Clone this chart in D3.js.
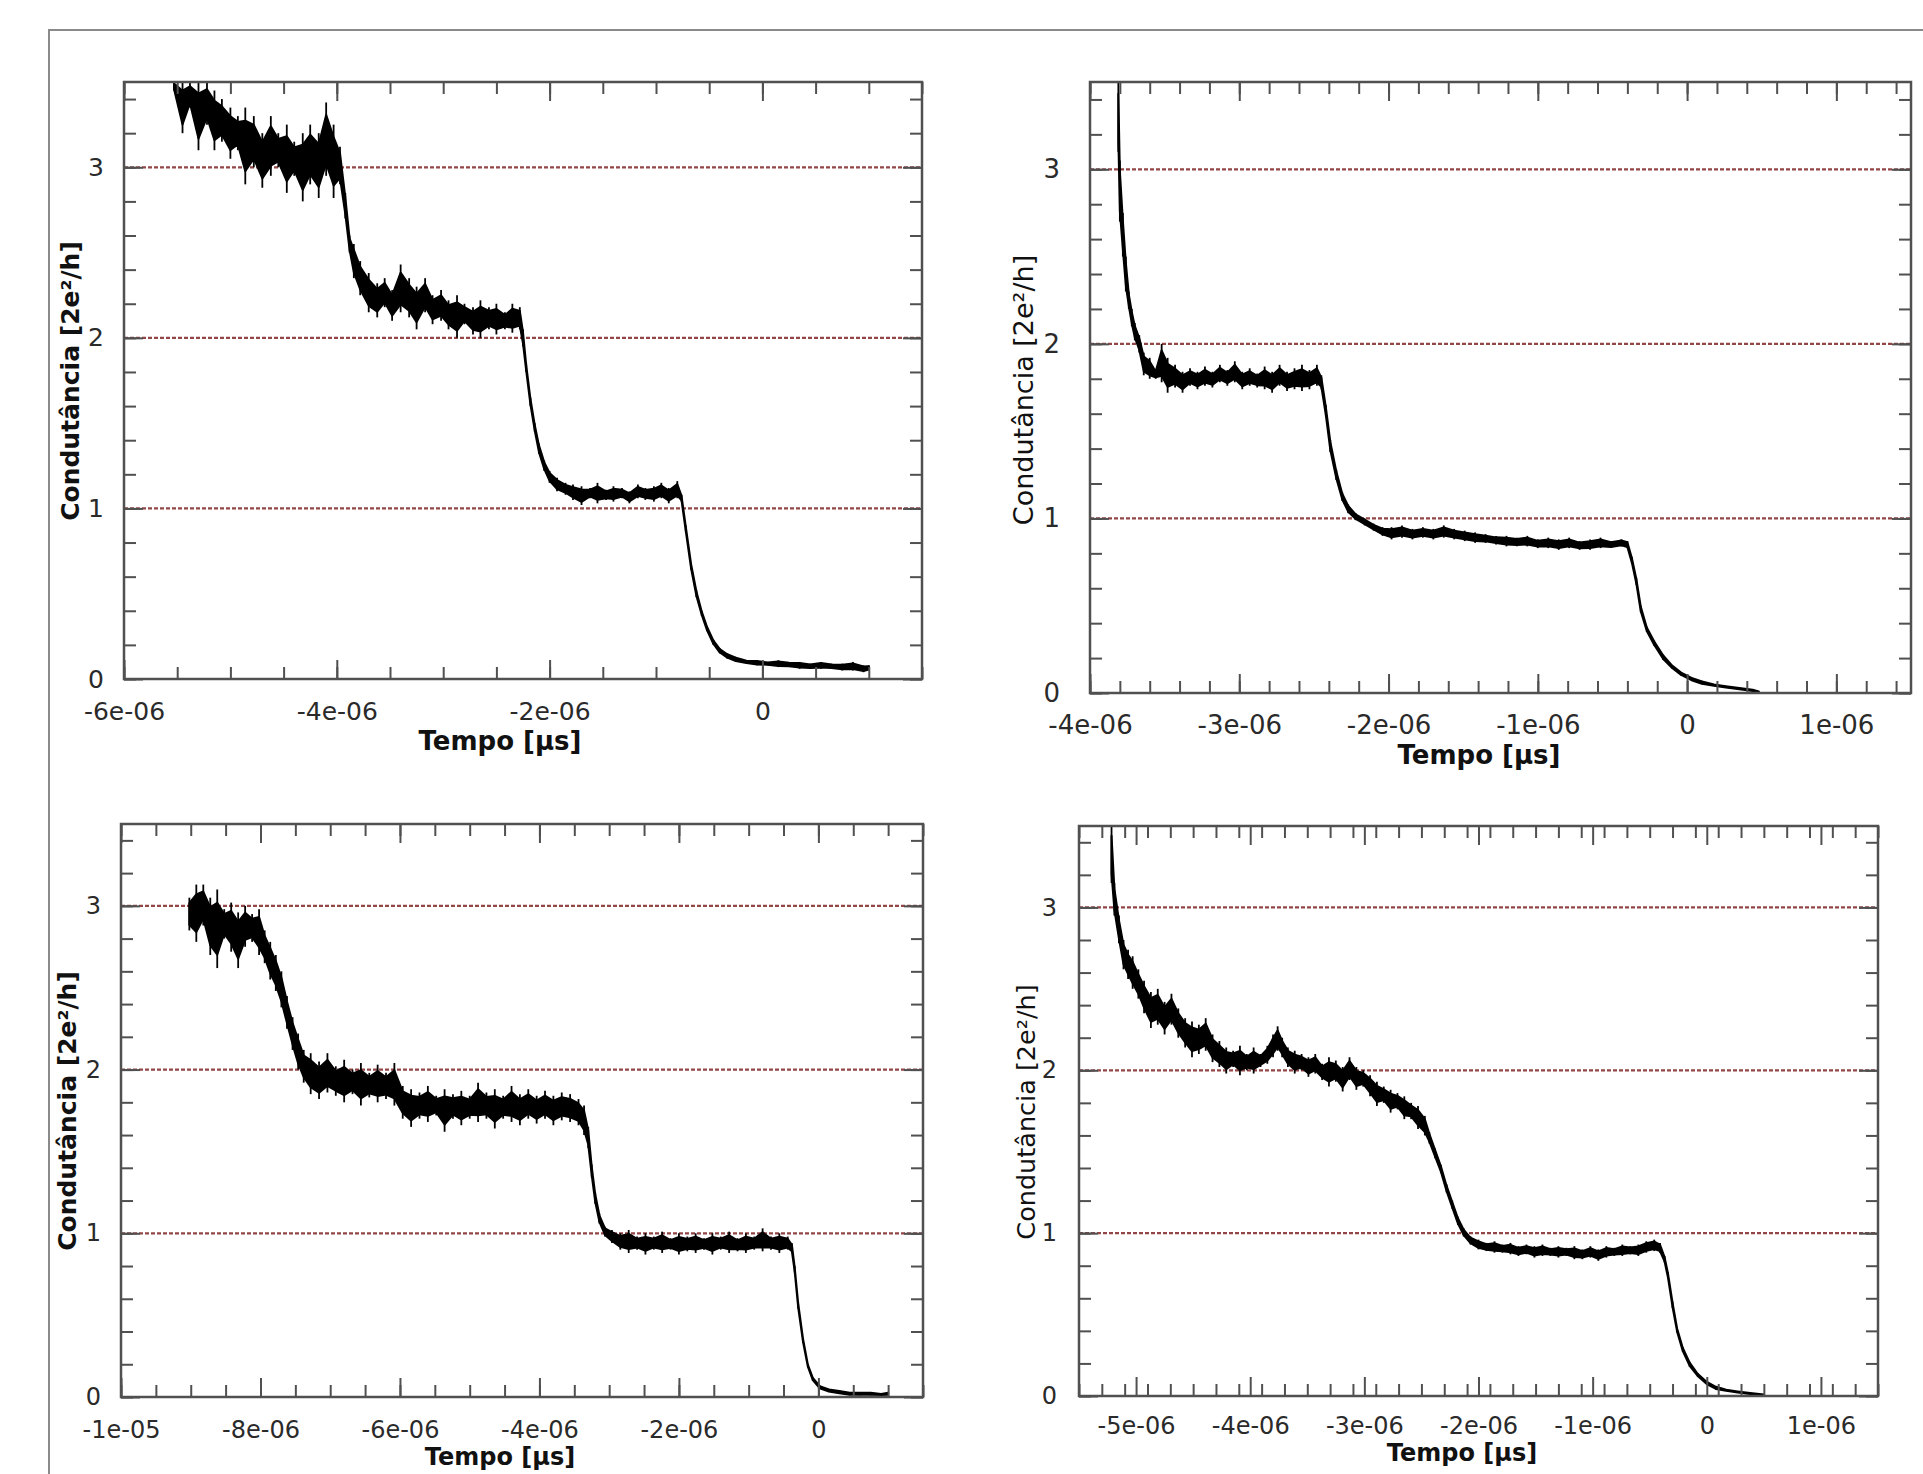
<!DOCTYPE html>
<html>
<head>
<meta charset="utf-8">
<script src="https://cdnjs.cloudflare.com/ajax/libs/d3/7.8.5/d3.min.js"></script>
<style>
  body { margin: 0; background: #fff; }
  svg { display: block; }
</style>
</head>
<body>
<svg width="1923" height="1474"></svg>
<script>
// conductance traces, time in microseconds, conductance in 2e^2/h
// each panel: sample times and the upper / lower edge of the noisy trace
const yMajor = [0, 1, 2, 3];
const refLevels = [1, 2, 3];

// top left
const aTime = [-5.53,-5.45,-5.38,-5.30,-5.22,-5.15,-5.08,-5.00,-4.93,-4.86,
  -4.78,-4.70,-4.62,-4.55,-4.47,-4.40,-4.32,-4.25,-4.17,-4.10,
  -4.03,-3.97,-3.92,-3.88,-3.84,-3.78,-3.70,-3.62,-3.55,-3.48,
  -3.40,-3.32,-3.25,-3.17,-3.10,-3.02,-2.95,-2.87,-2.80,-2.72,
  -2.65,-2.57,-2.50,-2.42,-2.35,-2.28,-2.25,-2.22,-2.18,-2.14,
  -2.10,-2.05,-2.00,-1.93,-1.85,-1.78,-1.70,-1.62,-1.55,-1.47,
  -1.40,-1.32,-1.25,-1.17,-1.10,-1.02,-0.95,-0.88,-0.80,-0.76,
  -0.72,-0.67,-0.62,-0.57,-0.52,-0.46,-0.40,-0.33,-0.25,-0.15,
  -0.05,0.05,0.15,0.25,0.35,0.45,0.55,0.65,0.75,0.85,
  0.95,1.00];
const aHigh = [3.5,3.5,3.5,3.5,3.5,3.45,3.4,3.35,3.3,3.35,
  3.3,3.2,3.3,3.2,3.25,3.15,3.2,3.25,3.2,3.38,
  3.25,3.12,2.85,2.6,2.55,2.45,2.38,2.32,2.35,2.28,
  2.43,2.35,2.3,2.35,2.25,2.28,2.22,2.25,2.2,2.18,
  2.22,2.18,2.2,2.15,2.2,2.18,2.05,1.85,1.65,1.5,
  1.38,1.28,1.22,1.18,1.15,1.14,1.13,1.12,1.15,1.11,
  1.13,1.12,1.1,1.14,1.12,1.13,1.15,1.12,1.16,1.08,
  0.9,0.68,0.52,0.4,0.31,0.23,0.18,0.15,0.13,0.11,
  0.11,0.1,0.11,0.1,0.1,0.09,0.1,0.09,0.09,0.1,
  0.08,0.08];
const aLow = [3.45,3.2,3.35,3.1,3.25,3.1,3.15,3.05,3.1,2.9,
  3.0,2.88,2.95,3.0,2.85,2.95,2.8,2.9,2.82,2.95,
  2.82,2.9,2.7,2.5,2.35,2.25,2.15,2.12,2.18,2.1,
  2.15,2.12,2.05,2.15,2.08,2.1,2.05,2.0,2.08,2.02,
  2.0,2.05,2.02,2.05,2.03,2.05,1.95,1.8,1.6,1.45,
  1.32,1.22,1.15,1.1,1.08,1.05,1.02,1.06,1.03,1.05,
  1.04,1.06,1.03,1.06,1.05,1.04,1.06,1.03,1.06,1.04,
  0.86,0.64,0.48,0.37,0.28,0.2,0.15,0.12,0.1,0.09,
  0.08,0.08,0.07,0.07,0.06,0.06,0.06,0.06,0.05,0.05,
  0.04,0.05];
const aXTicks = [-6, -4, -2, 0];

// top right
const bTime = [-3.81,-3.80,-3.78,-3.76,-3.74,-3.72,-3.70,-3.67,-3.64,-3.60,
  -3.56,-3.52,-3.48,-3.43,-3.38,-3.33,-3.28,-3.23,-3.18,-3.13,
  -3.08,-3.03,-2.98,-2.93,-2.88,-2.83,-2.78,-2.73,-2.68,-2.63,
  -2.58,-2.53,-2.48,-2.45,-2.42,-2.39,-2.35,-2.31,-2.27,-2.22,
  -2.16,-2.10,-2.04,-1.98,-1.91,-1.84,-1.77,-1.70,-1.63,-1.56,
  -1.49,-1.42,-1.35,-1.28,-1.21,-1.14,-1.07,-1.00,-0.93,-0.86,
  -0.79,-0.72,-0.65,-0.58,-0.51,-0.44,-0.40,-0.37,-0.34,-0.31,
  -0.27,-0.22,-0.16,-0.10,-0.04,0.03,0.10,0.18,0.26,0.35,
  0.44,0.48];
const bHigh = [3.5,3.05,2.75,2.5,2.3,2.2,2.12,2.05,1.95,1.92,
  1.85,2.0,1.92,1.88,1.84,1.86,1.84,1.87,1.84,1.88,
  1.85,1.9,1.84,1.86,1.83,1.87,1.84,1.88,1.84,1.86,
  1.88,1.85,1.88,1.82,1.65,1.45,1.28,1.15,1.08,1.03,
  1.0,0.97,0.95,0.95,0.96,0.94,0.95,0.94,0.96,0.94,
  0.93,0.92,0.91,0.9,0.9,0.89,0.9,0.88,0.89,0.88,
  0.89,0.87,0.88,0.89,0.87,0.88,0.87,0.78,0.66,0.5,
  0.38,0.3,0.22,0.16,0.12,0.09,0.07,0.05,0.04,0.03,
  0.02,0.01];
const bLow = [3.1,2.7,2.5,2.3,2.2,2.1,2.02,1.95,1.82,1.8,
  1.8,1.78,1.72,1.75,1.72,1.76,1.74,1.76,1.75,1.78,
  1.76,1.78,1.74,1.76,1.75,1.74,1.72,1.76,1.73,1.74,
  1.73,1.74,1.76,1.74,1.58,1.38,1.22,1.1,1.03,0.99,
  0.96,0.93,0.9,0.88,0.89,0.88,0.89,0.88,0.89,0.88,
  0.87,0.86,0.86,0.85,0.84,0.84,0.84,0.83,0.83,0.82,
  0.83,0.82,0.82,0.83,0.83,0.84,0.83,0.74,0.62,0.46,
  0.35,0.27,0.19,0.14,0.1,0.07,0.05,0.04,0.03,0.02,
  0.01,0.005];
const bXTicks = [-4, -3, -2, -1, 0, 1];

// bottom left
const cTime = [-9.02,-8.92,-8.82,-8.72,-8.62,-8.52,-8.42,-8.32,-8.22,-8.12,
  -8.02,-7.94,-7.86,-7.78,-7.70,-7.62,-7.54,-7.46,-7.38,-7.28,
  -7.16,-7.04,-6.92,-6.80,-6.68,-6.56,-6.44,-6.32,-6.20,-6.08,
  -5.96,-5.84,-5.72,-5.60,-5.48,-5.36,-5.24,-5.12,-5.00,-4.88,
  -4.76,-4.64,-4.52,-4.40,-4.28,-4.16,-4.04,-3.92,-3.80,-3.68,
  -3.56,-3.44,-3.36,-3.30,-3.25,-3.20,-3.14,-3.06,-2.96,-2.84,
  -2.72,-2.60,-2.48,-2.36,-2.24,-2.12,-2.00,-1.88,-1.76,-1.64,
  -1.52,-1.40,-1.28,-1.16,-1.04,-0.92,-0.80,-0.68,-0.56,-0.44,
  -0.38,-0.34,-0.29,-0.22,-0.15,-0.08,0.02,0.15,0.30,0.45,
  0.60,0.75,0.90,1.00];
const cHigh = [3.05,3.13,3.13,3.05,3.1,2.98,3.02,2.96,3.0,2.95,
  2.98,2.85,2.78,2.7,2.6,2.45,2.32,2.22,2.12,2.1,
  2.05,2.1,2.02,2.06,2.0,2.04,1.98,2.03,1.98,2.04,
  1.9,1.88,1.86,1.9,1.84,1.88,1.85,1.87,1.84,1.92,
  1.86,1.88,1.84,1.9,1.85,1.88,1.84,1.87,1.84,1.86,
  1.85,1.82,1.78,1.65,1.42,1.25,1.12,1.04,1.02,1.0,
  1.02,0.98,1.0,0.98,1.01,0.97,1.0,0.98,1.0,0.97,
  1.0,0.98,1.01,0.97,1.0,0.98,1.03,0.98,1.0,0.98,
  0.94,0.8,0.58,0.36,0.2,0.12,0.07,0.05,0.04,0.03,
  0.03,0.03,0.02,0.03];
const cLow = [2.85,2.78,2.88,2.7,2.62,2.8,2.72,2.62,2.75,2.78,
  2.7,2.65,2.55,2.48,2.38,2.25,2.12,2.0,1.92,1.85,
  1.82,1.86,1.84,1.8,1.85,1.78,1.83,1.8,1.82,1.78,
  1.7,1.65,1.7,1.68,1.72,1.62,1.7,1.66,1.7,1.68,
  1.7,1.64,1.7,1.68,1.66,1.7,1.67,1.7,1.66,1.69,
  1.68,1.66,1.6,1.52,1.34,1.18,1.06,0.98,0.94,0.9,
  0.88,0.9,0.87,0.9,0.88,0.9,0.87,0.89,0.88,0.9,
  0.87,0.9,0.88,0.89,0.88,0.9,0.89,0.9,0.88,0.9,
  0.88,0.76,0.54,0.33,0.18,0.1,0.05,0.03,0.02,0.01,
  0.01,0.01,0.01,0.01];
const cXTicks = [-10, -8, -6, -4, -2, 0];

// bottom right
const dTime = [-5.215,-5.19,-5.15,-5.11,-5.07,-5.03,-4.98,-4.93,-4.87,-4.81,
  -4.75,-4.69,-4.63,-4.57,-4.51,-4.45,-4.39,-4.33,-4.27,-4.21,
  -4.15,-4.09,-4.03,-3.97,-3.91,-3.85,-3.80,-3.76,-3.72,-3.67,
  -3.61,-3.55,-3.49,-3.43,-3.37,-3.31,-3.25,-3.19,-3.13,-3.07,
  -3.01,-2.95,-2.89,-2.83,-2.77,-2.71,-2.65,-2.59,-2.53,-2.47,
  -2.43,-2.38,-2.33,-2.28,-2.23,-2.18,-2.13,-2.07,-2.00,-1.93,
  -1.86,-1.79,-1.72,-1.65,-1.58,-1.51,-1.44,-1.37,-1.30,-1.23,
  -1.16,-1.09,-1.02,-0.95,-0.88,-0.81,-0.74,-0.67,-0.60,-0.53,
  -0.46,-0.41,-0.37,-0.34,-0.30,-0.26,-0.21,-0.15,-0.08,0.00,
  0.08,0.17,0.27,0.38,0.50];
const dHigh = [3.5,3.15,2.95,2.8,2.74,2.7,2.62,2.55,2.48,2.5,
  2.42,2.47,2.38,2.32,2.3,2.28,2.32,2.22,2.18,2.14,
  2.12,2.15,2.1,2.14,2.1,2.15,2.22,2.27,2.2,2.14,
  2.12,2.1,2.08,2.1,2.04,2.08,2.06,2.02,2.08,2.02,
  2.0,1.97,1.93,1.9,1.88,1.86,1.84,1.8,1.78,1.72,
  1.62,1.52,1.42,1.3,1.2,1.1,1.03,0.98,0.96,0.94,
  0.95,0.93,0.94,0.92,0.93,0.92,0.93,0.91,0.92,0.91,
  0.92,0.9,0.92,0.9,0.92,0.91,0.93,0.92,0.93,0.95,
  0.96,0.94,0.86,0.76,0.58,0.42,0.3,0.21,0.14,0.09,
  0.06,0.04,0.03,0.02,0.01];
const dLow = [3.15,2.95,2.78,2.62,2.56,2.5,2.44,2.35,2.26,2.28,
  2.22,2.28,2.2,2.14,2.08,2.1,2.12,2.05,2.02,1.98,
  2.02,1.97,2.0,1.98,2.02,2.04,2.08,2.12,2.08,2.02,
  1.98,2.0,1.96,1.98,1.94,1.9,1.93,1.87,1.94,1.88,
  1.9,1.84,1.78,1.8,1.74,1.76,1.7,1.7,1.64,1.6,
  1.55,1.46,1.37,1.25,1.15,1.05,0.98,0.93,0.9,0.89,
  0.88,0.88,0.87,0.86,0.87,0.85,0.86,0.86,0.85,0.86,
  0.84,0.84,0.85,0.83,0.85,0.86,0.86,0.87,0.86,0.88,
  0.89,0.88,0.82,0.72,0.54,0.39,0.27,0.18,0.12,0.07,
  0.04,0.03,0.02,0.01,0.005];
const dXTicks = [-5, -4, -3, -2, -1, 0, 1];

const xTitle = "Tempo [µs]";
const yTitle = "Condutância [2e²/h]";

// layout of the four panels
const panels = [
  { id: "a", time: aTime, hi: aHigh, lo: aLow, xTicks: aXTicks, xDomain: [-6, 1.5], minorStep: 0.5,
    left: 124, right: 922, top: 82, bottom: 679, tickFont: 25, xPad: 23, yPad: 20,
    yLabel: [70, 381, 25, "bold"], xLabel: [500, 741, 26] },
  { id: "b", time: bTime, hi: bHigh, lo: bLow, xTicks: bXTicks, xDomain: [-4, 1.5], minorStep: 0.2,
    left: 1090, right: 1911, top: 82, bottom: 693, tickFont: 26, xPad: 23, yPad: 30,
    yLabel: [1023, 390, 27, "normal"], xLabel: [1479, 755, 26] },
  { id: "c", time: cTime, hi: cHigh, lo: cLow, xTicks: cXTicks, xDomain: [-10, 1.5], minorStep: 0.5,
    left: 121, right: 923, top: 824, bottom: 1397, tickFont: 24, xPad: 24, yPad: 20,
    yLabel: [67, 1111, 25, "bold"], xLabel: [500, 1457, 24] },
  { id: "d", time: dTime, hi: dHigh, lo: dLow, xTicks: dXTicks, xDomain: [-5.5, 1.5], minorStep: 0.2,
    left: 1079, right: 1878, top: 826, bottom: 1396, tickFont: 24, xPad: 21, yPad: 22,
    yLabel: [1026, 1112, 25.5, "normal"], xLabel: [1462, 1453, 24] }
];

const svg = d3.select("svg");
const font = "'DejaVu Sans', sans-serif";
const axisColor = "#505050";

// outer frame of the figure
svg.append("rect").attr("x", 49).attr("y", 30).attr("width", 1923).attr("height", 1474)
  .attr("fill", "none").attr("stroke", "#8a8a8a").attr("stroke-width", 2);

// gnuplot style labels: -6e-06, -1e-05, 0
function fmtSci(v) {
  if (v === 0) return "0";
  return (v * 1e-6).toExponential(0).replace(/e([+-])(\d)$/, (m, s, d) => "e" + s + "0" + d);
}

function styleAxis(sel, fontSize) {
  sel.select(".domain").remove();
  sel.selectAll(".tick line").attr("stroke", axisColor).attr("stroke-width", 2);
  sel.selectAll(".tick text").attr("font-family", font).attr("font-size", fontSize).attr("fill", "#2a2a2a");
}

panels.forEach(p => {
  const g = svg.append("g");
  const x = d3.scaleLinear().domain(p.xDomain).range([p.left, p.right]);
  const y = d3.scaleLinear().domain([0, 3.5]).range([p.bottom, p.top]);

  svg.append("clipPath").attr("id", "clip-" + p.id).append("rect")
    .attr("x", p.left).attr("y", p.top).attr("width", p.right - p.left).attr("height", p.bottom - p.top);

  // quantised levels
  g.selectAll("line.ref").data(refLevels).join("line").attr("class", "ref")
    .attr("x1", p.left).attr("x2", p.right)
    .attr("y1", d => y(d)).attr("y2", d => y(d))
    .attr("stroke", "#924646").attr("stroke-width", 2.2).attr("stroke-dasharray", "4,2");

  // trace: dense core of the noise plus the individual spikes
  const pts = p.time.map((t, i) => ({ t: t, hi: p.hi[i], lo: p.lo[i] }));
  const core = d3.area().x(d => x(d.t))
    .y0(d => y((d.hi + d.lo) / 2 - (d.hi - d.lo) * 0.33))
    .y1(d => y((d.hi + d.lo) / 2 + (d.hi - d.lo) * 0.33));
  const trace = g.append("g").attr("clip-path", "url(#clip-" + p.id + ")");
  trace.append("path").datum(pts).attr("d", core)
    .attr("fill", "#000").attr("stroke", "#000").attr("stroke-width", 2).attr("stroke-linejoin", "round");
  trace.selectAll("line.spike").data(pts).join("line").attr("class", "spike")
    .attr("x1", d => x(d.t)).attr("x2", d => x(d.t))
    .attr("y1", d => y(d.hi)).attr("y2", d => y(d.lo))
    .attr("stroke", "#000").attr("stroke-width", 1.8);

  // ticks, all pointing inward
  const minorX = d3.range(p.xDomain[0], p.xDomain[1] + 1e-9, p.minorStep);
  const minorY = d3.range(0, 3.5, 0.2);
  const ax = [
    [d3.axisBottom(x).tickValues(minorX).tickSize(-12).tickFormat(""), `translate(0,${p.bottom})`],
    [d3.axisBottom(x).tickValues(p.xTicks).tickSize(-19).tickPadding(p.xPad).tickFormat(fmtSci), `translate(0,${p.bottom})`],
    [d3.axisTop(x).tickValues(minorX).tickSize(-12).tickFormat(""), `translate(0,${p.top})`],
    [d3.axisTop(x).tickValues(p.xTicks).tickSize(-19).tickFormat(""), `translate(0,${p.top})`],
    [d3.axisLeft(y).tickValues(minorY).tickSize(-12).tickFormat(""), `translate(${p.left},0)`],
    [d3.axisLeft(y).tickValues(yMajor).tickSize(-19).tickPadding(p.yPad).tickFormat(d3.format("d")), `translate(${p.left},0)`],
    [d3.axisRight(y).tickValues(minorY).tickSize(-12).tickFormat(""), `translate(${p.right},0)`],
    [d3.axisRight(y).tickValues(yMajor).tickSize(-19).tickFormat(""), `translate(${p.right},0)`]
  ];
  ax.forEach(([axis, tr]) => {
    g.append("g").attr("transform", tr).call(axis).call(s => styleAxis(s, p.tickFont));
  });

  g.append("rect").attr("x", p.left).attr("y", p.top)
    .attr("width", p.right - p.left).attr("height", p.bottom - p.top)
    .attr("fill", "none").attr("stroke", axisColor).attr("stroke-width", 2.5);

  // axis titles
  g.append("text")
    .attr("transform", `translate(${p.yLabel[0]},${p.yLabel[1]}) rotate(-90)`)
    .attr("text-anchor", "middle").attr("dominant-baseline", "central")
    .attr("font-family", font).attr("font-size", p.yLabel[2]).attr("font-weight", p.yLabel[3])
    .attr("fill", "#111").text(yTitle);
  g.append("text")
    .attr("x", p.xLabel[0]).attr("y", p.xLabel[1])
    .attr("text-anchor", "middle").attr("dominant-baseline", "central")
    .attr("font-family", font).attr("font-size", p.xLabel[2]).attr("font-weight", "bold")
    .attr("fill", "#111").text(xTitle);
});
</script>
</body>
</html>
